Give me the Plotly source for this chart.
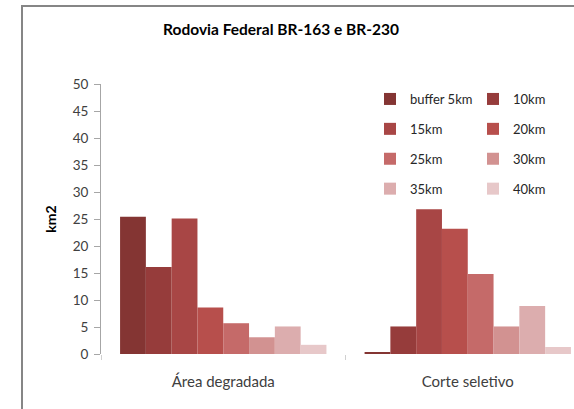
import plotly.graph_objects as go

categories = ["Área degradada", "Corte seletivo"]
series_names = ["buffer 5km", "10km", "15km", "20km", "25km", "30km", "35km", "40km"]
area_degradada = [25.4, 16.1, 25.1, 8.6, 5.7, 3.1, 5.1, 1.7]
corte_seletivo = [0.2, 5.1, 26.8, 23.2, 14.8, 5.1, 8.9, 1.3]
colors = ["#843533", "#963c3b", "#a84645", "#b74f4c", "#c56a69", "#d29291", "#dcadae", "#e7c8c9"]
y_ticks = list(range(0, 51, 5))

FONT = "Lato"
W, H = 574, 409
L, R, T, B = 101, 0, 84, 55
pw, ph = W - L - R, H - T - B

fig = go.Figure()
for i, name in enumerate(series_names):
    fig.add_trace(go.Bar(
        x=categories,
        y=[area_degradada[i], corte_seletivo[i]],
        name=name,
        marker=dict(color=colors[i], line=dict(width=0)),
        legend="legend" if i % 2 == 0 else "legend2",
        legendgroup=name,
    ))

def px_x(x):
    return (x - L) / pw

def px_y(y):
    return (H - B - y) / ph

leg_common = dict(
    orientation="v", yanchor="top", xanchor="left",
    font=dict(family=FONT, size=13, color="#262626"),
    bgcolor="rgba(0,0,0,0)", tracegroupgap=10, itemwidth=30,
)

fig.update_layout(
    width=W, height=H,
    margin=dict(l=L, r=R, t=T, b=B),
    paper_bgcolor="white", plot_bgcolor="white",
    barmode="group", bargap=0.156, bargroupgap=0,
    title=dict(text="Rodovia Federal BR-163 e BR-230", x=px_x(281), xanchor="center",
               y=1 - 30 / H, yanchor="middle", xref="paper",
               font=dict(family=FONT, size=15.5, color="#000000", weight="bold")),
    legend=dict(x=px_x(370), y=px_y(84), **leg_common),
    legend2=dict(x=px_x(473), y=px_y(84), **leg_common),
    xaxis=dict(
        range=[-0.5, 1.5 - (590 - 574) / 244.3],
        showline=False, showgrid=False, zeroline=False,
        ticks="outside", tickson="boundaries", ticklen=5, tickcolor="#d0d0d0",
        tickfont=dict(family=FONT, size=15, color="#404040"),
        ticklabelstandoff=17,
    ),
    yaxis=dict(
        range=[0, 50], tickvals=y_ticks,
        showline=True, linecolor="#a6a6a6", linewidth=1,
        showgrid=False, zeroline=False,
        ticks="outside", ticklen=6, tickcolor="#a6a6a6",
        tickfont=dict(family=FONT, size=13.5, color="#404040"),
        ticklabelstandoff=3,
        title=dict(text="<b>km2</b>", font=dict(family=FONT, size=14, color="#000000"), standoff=12),
    ),
    shapes=[
        dict(type="line", xref="paper", yref="paper", x0=px_x(22), x1=px_x(22),
             y0=px_y(6), y1=px_y(430), line=dict(color="#868686", width=2)),
        dict(type="line", xref="paper", yref="paper", x0=px_x(21), x1=px_x(600),
             y0=px_y(6), y1=px_y(6), line=dict(color="#868686", width=2)),
    ],
)

fig.write_html("out.html", config={"displayModeBar": False},
               post_script="document.body.style.margin='0';document.body.style.padding='0';document.body.style.overflow='hidden';")
